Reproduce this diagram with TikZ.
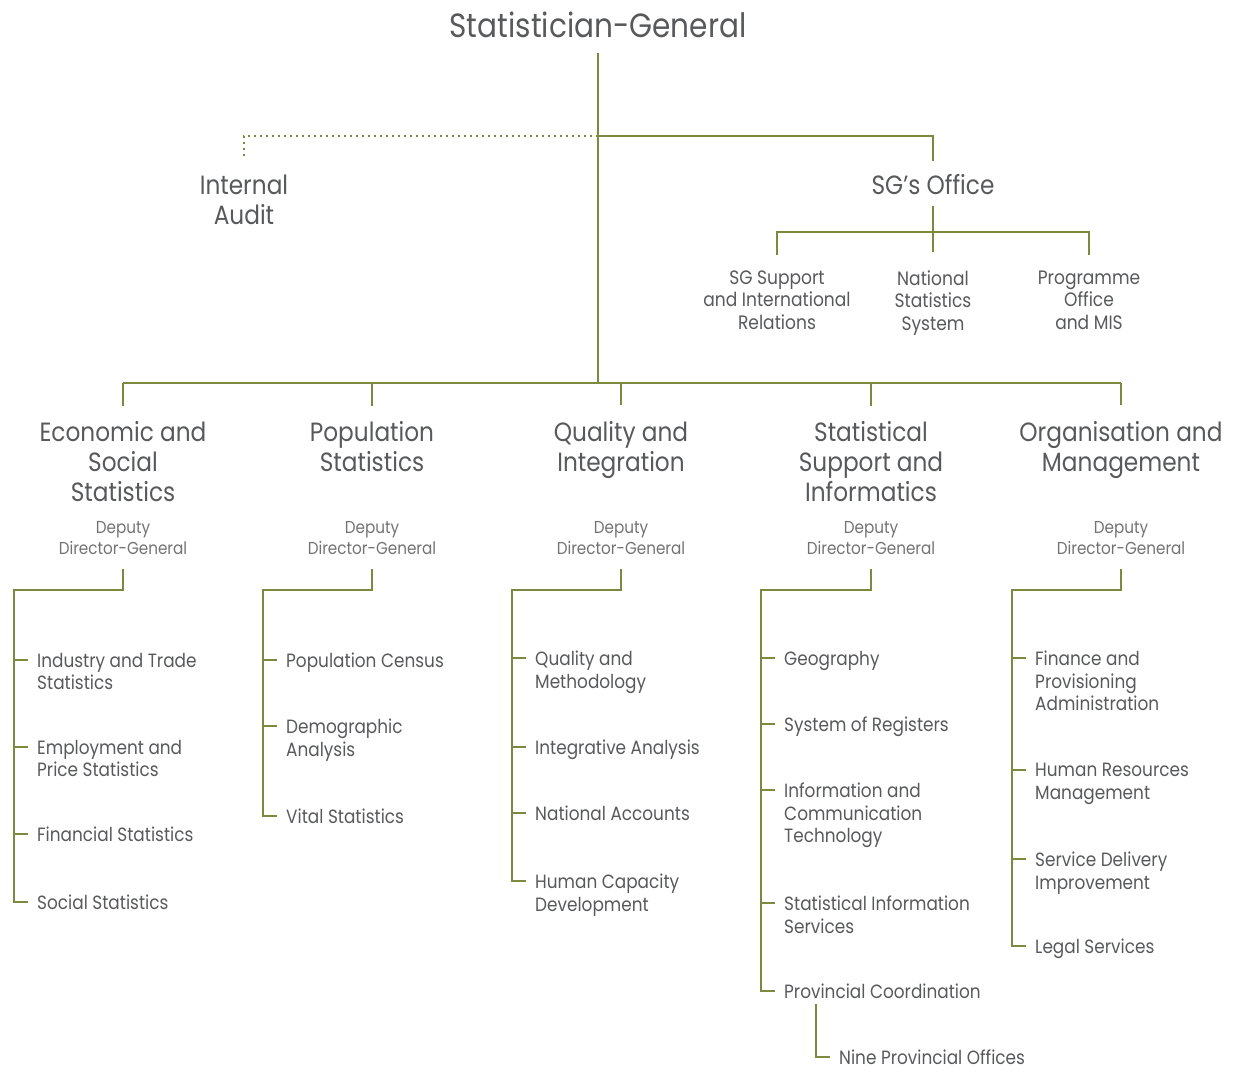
\documentclass[tikz,border=0pt]{standalone}
\usepackage{fontspec}
\setmainfont[FakeStretch=0.88]{Poppins}
\usetikzlibrary{calc}
\definecolor{oliva}{RGB}{123,138,62}
\definecolor{testo}{RGB}{88,89,91}
\definecolor{grigio}{RGB}{115,115,115}
\tikzset{
linea/.style={draw=oliva,line width=2pt},
punti/.style={draw=oliva,line width=1.8pt,dash pattern=on 1.8pt off 4.2pt},
titolo/.style={inner sep=0pt,text=testo,font=\fontsize{33.6}{40}\selectfont},
capo/.style={inner sep=0pt,align=center,text=testo,font=\fontsize{26.4}{30}\selectfont},
sotto/.style={inner sep=0pt,align=center,text=testo,font=\fontsize{19.4}{22.5}\selectfont},
vice/.style={inner sep=0pt,align=center,text=grigio,font=\fontsize{17.3}{21}\selectfont},
voce/.style={inner sep=0pt,anchor=north west,align=left,text=testo,font=\fontsize{19.2}{22.5}\selectfont}}

\begin{document}
\begin{tikzpicture}[x=1pt,y=-1pt]
\useasboundingbox (0,0) rectangle (1238,1071);

\node[titolo] (sg) at (598,25) {Statistician-General};
\node[capo] (audit) at (244,200) {Internal\\Audit};
\node[capo] (ufficio) at (933,185) {SG’s Office};
\node[sotto] (s1) at (777,300) {SG Support\\and International\\Relations};
\node[sotto] (s2) at (933,303) {National\\Statistics\\System};
\node[sotto] (s3) at (1089,300) {Programme\\Office\\and MIS};

\coordinate (j0) at (598,136);
\coordinate (j1) at (598,383);
\coordinate (j2) at (933,232);

\draw[linea,shorten <=15pt] (sg) -- (j1);
\draw[punti,shorten >=16pt] (j0) -| (audit);
\draw[linea,shorten >=14pt] (j0) -| (ufficio);
\draw[linea,shorten <=11pt,shorten >=18pt] (ufficio) -- (s2);
\draw[linea,shorten >=15pt] (j2) -| (s1);
\draw[linea,shorten >=15pt] (j2) -| (s3);

% divisions
\node[capo] (d1) at (123,462) {Economic and\\Social\\Statistics};
\node[capo] (d2) at (372,447) {Population\\Statistics};
\node[capo] (d3) at (621,450) {Quality and\\Integration};
\node[capo] (d4) at (871,462) {Statistical\\Support and\\Informatics};
\node[capo] (d5) at (1121,450) {Organisation and\\Management};

\coordinate (vv) at (0,538);
\draw[linea] (j1 -| d1) -- (j1 -| d5);
\foreach \n in {1,...,5} {
  \node[vice] (v\n) at (d\n |- vv) {Deputy\\Director-General};
  \draw[linea,shorten >=16pt] (j1 -| d\n) -- (d\n);
}

\coordinate (c1) at (14,590);
\coordinate (c2) at (263,590);
\coordinate (c3) at (512,590);
\coordinate (c4) at (761,590);
\coordinate (c5) at (1012,590);

\foreach \y [count=\i] in {660,747,834,902} \coordinate (t1\i) at (14,\y);
\foreach \y [count=\i] in {660,726,816} \coordinate (t2\i) at (263,\y);
\foreach \y [count=\i] in {658,747,813,881} \coordinate (t3\i) at (512,\y);
\foreach \y [count=\i] in {658,724,790,903,991} \coordinate (t4\i) at (761,\y);
\foreach \y [count=\i] in {658,770,859,946} \coordinate (t5\i) at (1012,\y);
\coordinate (t46) at (816,1057);

% Economic and Social Statistics
\node[voce] (l11) at ([shift={(23,-7)}]t11) {Industry and Trade\\Statistics};
\node[voce] (l12) at ([shift={(23,-7)}]t12) {Employment and\\Price Statistics};
\node[voce] (l13) at ([shift={(23,-7)}]t13) {Financial Statistics};
\node[voce] (l14) at ([shift={(23,-7)}]t14) {Social Statistics};
\foreach \i in {1,2,3} \draw[linea] (t1\i) -- +(14,0);
\draw[linea,shorten <=14pt] (v1) |- (c1) -- (t14) -- +(14,0);

% Population Statistics
\node[voce] (l21) at ([shift={(23,-7)}]t21) {Population Census};
\node[voce] (l22) at ([shift={(23,-7)}]t22) {Demographic\\Analysis};
\node[voce] (l23) at ([shift={(23,-7)}]t23) {Vital Statistics};
\foreach \i in {1,2} \draw[linea] (t2\i) -- +(14,0);
\draw[linea,shorten <=14pt] (v2) |- (c2) -- (t23) -- +(14,0);

% Quality and Integration
\node[voce] (l31) at ([shift={(23,-7)}]t31) {Quality and\\Methodology};
\node[voce] (l32) at ([shift={(23,-7)}]t32) {Integrative Analysis};
\node[voce] (l33) at ([shift={(23,-7)}]t33) {National Accounts};
\node[voce] (l34) at ([shift={(23,-7)}]t34) {Human Capacity\\Development};
\foreach \i in {1,2,3} \draw[linea] (t3\i) -- +(14,0);
\draw[linea,shorten <=14pt] (v3) |- (c3) -- (t34) -- +(14,0);

% Statistical Support and Informatics
\node[voce] (l41) at ([shift={(23,-7)}]t41) {Geography};
\node[voce] (l42) at ([shift={(23,-7)}]t42) {System of Registers};
\node[voce] (l43) at ([shift={(23,-7)}]t43) {Information and\\Communication\\Technology};
\node[voce] (l44) at ([shift={(23,-7)}]t44) {Statistical Information\\Services};
\node[voce] (l45) at ([shift={(23,-7)}]t45) {Provincial Coordination};
\node[voce] (l46) at ([shift={(23,-7)}]t46) {Nine Provincial Offices};
\foreach \i in {1,...,4} \draw[linea] (t4\i) -- +(14,0);
\draw[linea,shorten <=14pt] (v4) |- (c4) -- (t45) -- +(14,0);
\draw[linea,shorten <=5pt] (l45.south -| t46) -- (t46) -- +(14,0);

% Organisation and Management
\node[voce] (l51) at ([shift={(23,-7)}]t51) {Finance and\\Provisioning\\Administration};
\node[voce] (l52) at ([shift={(23,-7)}]t52) {Human Resources\\Management};
\node[voce] (l53) at ([shift={(23,-7)}]t53) {Service Delivery\\Improvement};
\node[voce] (l54) at ([shift={(23,-7)}]t54) {Legal Services};
\foreach \i in {1,2,3} \draw[linea] (t5\i) -- +(14,0);
\draw[linea,shorten <=14pt] (v5) |- (c5) -- (t54) -- +(14,0);
\end{tikzpicture}
\end{document}
